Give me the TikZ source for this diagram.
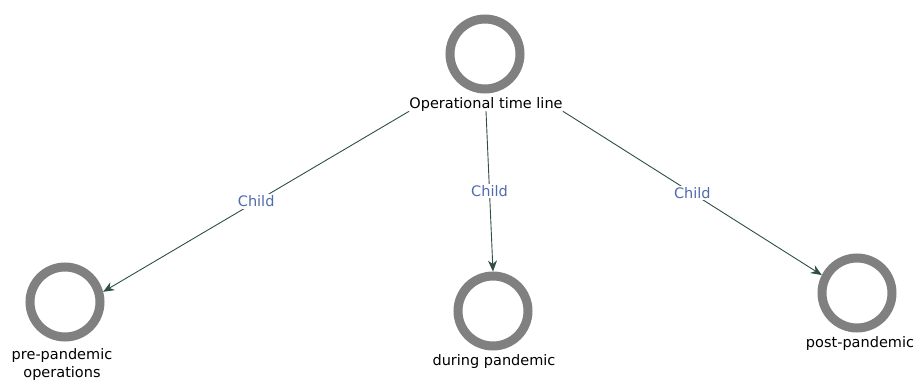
\documentclass[tikz,border=0pt]{standalone}
\usepackage{fontspec}
\setmainfont{DejaVu Sans}
\usepackage{tikz}
\usetikzlibrary{arrows.meta,positioning}
\definecolor{ringgray}{RGB}{128,128,128}
\definecolor{edgegreen}{RGB}{47,79,69}
\definecolor{childblue}{RGB}{80,106,176}
\newcommand{\lblfont}{\fontsize{14.5}{18}\selectfont}

\begin{document}
\begin{tikzpicture}[x=1pt,y=-1pt,
    ring/.style={circle,draw=ringgray,line width=9pt,minimum size=70pt,inner sep=0pt},
    txt/.style={inner sep=0pt,align=center,font=\lblfont},
    child/.style={-{Stealth[length=11pt,width=9pt]},draw=edgegreen,line width=0.9pt},
    rel/.style={fill=white,inner sep=1.5pt,text=childblue,font=\lblfont}]
    \useasboundingbox (0,0) rectangle (914,381);
    % nodes
    \node[ring] (top) at (485,54) {};
    \node[txt] (toplbl) at (486,104) {Operational time line};
    \node[ring] (pre) at (65,302) {};
    \node[txt] (prelbl) at (62,364) {pre-pandemic\\operations};
    \node[ring] (during) at (493,311) {};
    \node[txt] (duringlbl) at (494,361) {during pandemic};
    \node[ring] (post) at (857,293) {};
    \node[txt] (postlbl) at (860,343) {post-pandemic};
    % edges
    \draw[child] (toplbl.south west) -- node[rel] {Child} (pre.15);
    \draw[child] (toplbl.south) -- node[rel] {Child} (during.north);
    \draw[child] (toplbl.south east) -- node[rel] {Child} (post.153);
\end{tikzpicture}
\end{document}
